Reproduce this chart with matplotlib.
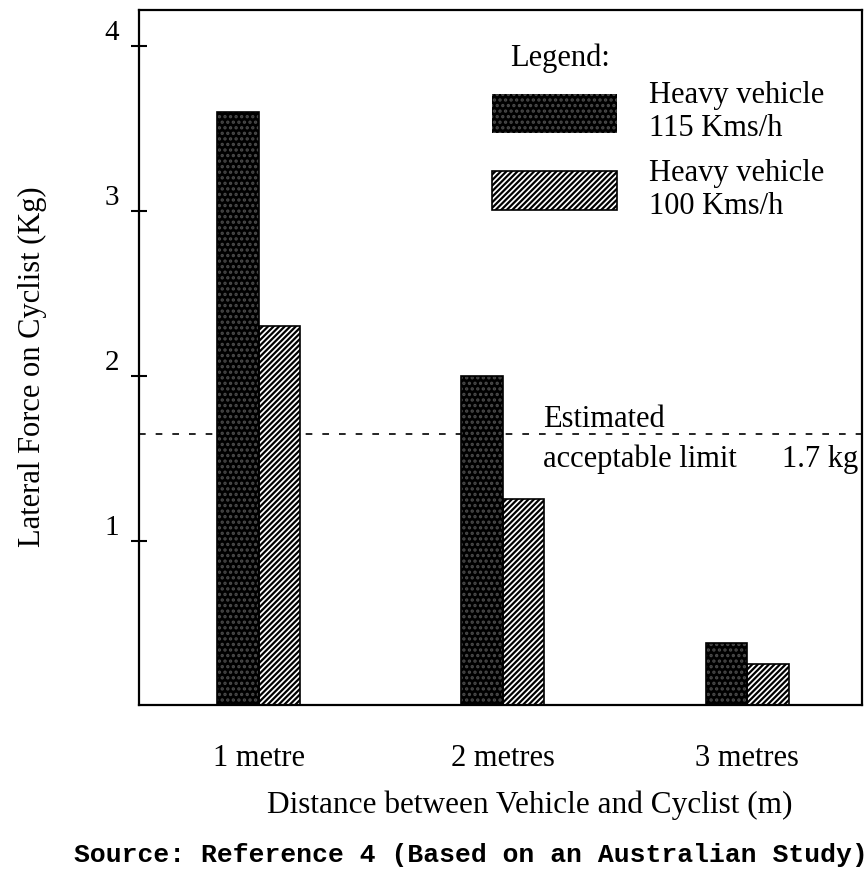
import matplotlib.pyplot as plt
from matplotlib.patches import Patch
import numpy as np

# data
distances = ['1 metre', '2 metres', '3 metres']
force_115 = [3.6, 2.0, 0.38]     # heavy vehicle 115 km/h
force_100 = [2.3, 1.25, 0.25]    # heavy vehicle 100 km/h
limit = 1.65                     # drawn line, labelled 1.7 kg
y_ticks = [1, 2, 3, 4]

plt.rcParams['font.family'] = ['Liberation Serif', 'DejaVu Serif']
plt.rcParams['hatch.linewidth'] = 1.6

fig = plt.figure(figsize=(8.68, 8.73), dpi=100)
ax = fig.add_axes([0.160, 0.192, 0.833, 0.7965])

x = np.arange(len(distances))
w = 0.17
dark_hatch = dict(facecolor='black', edgecolor='#4a4a4a', hatch='...', lw=0)
light_hatch = dict(facecolor='white', edgecolor='black', hatch='//////', lw=1.2)

ax.axhline(limit, color='black', ls=(0, (4, 6)), lw=1.2, zorder=1)

ax.bar(x - w / 2, force_115, w, zorder=2, **dark_hatch)
ax.bar(x - w / 2, force_115, w, facecolor='none', edgecolor='black',
       lw=1.2, zorder=3)
ax.bar(x + w / 2, force_100, w, zorder=2, **light_hatch)

ax.set_xlim(-0.49, 2.47)
ax.set_ylim(0, 4.22)

ax.set_yticks(y_ticks)
ax.set_yticklabels([str(t) for t in y_ticks], fontsize=21)
for lab in ax.get_yticklabels():
    lab.set_va('bottom')
ax.tick_params(axis='y', direction='inout', length=12, width=1.5, pad=8)

ax.set_xticks(x)
ax.set_xticklabels(distances, fontsize=22)
ax.tick_params(axis='x', length=0, pad=28)

for s in ax.spines.values():
    s.set_linewidth(1.6)

ax.set_xlabel('Distance between Vehicle and Cyclist (m)', fontsize=22.5)
ax.xaxis.set_label_coords(0.541, -0.122)
ax.set_ylabel('Lateral Force on Cyclist (Kg)', fontsize=22)
ax.yaxis.set_label_coords(-0.127, 0.487)

# limit annotation
ax.annotate('Estimated', (1.164, limit), xytext=(0, 4.5),
            textcoords='offset points', fontsize=22, va='baseline')
ax.annotate('acceptable limit', (1.164, limit), xytext=(0, -24),
            textcoords='offset points', fontsize=22, va='baseline')
ax.annotate('1.7 kg', (2.455, limit), xytext=(0, -24),
            textcoords='offset points', fontsize=22, va='baseline',
            ha='right')

# legend
ax.text(1.029, 3.878, 'Legend:', fontsize=22, ha='left', va='baseline')
handles = [Patch(**dark_hatch), Patch(**light_hatch)]
ax.legend(handles, ['Heavy vehicle\n115 Kms/h', 'Heavy vehicle\n100 Kms/h'],
          loc='upper left', bbox_to_anchor=(0.488, 0.898), frameon=False,
          fontsize=22, handlelength=4.1, handleheight=1.6, handletextpad=1.05,
          labelspacing=0.5, borderpad=0, borderaxespad=0)

fig.text(0.542, 0.0206, 'Source: Reference 4 (Based on an Australian Study)',
         family='Liberation Mono', fontweight='bold', fontsize=19,
         ha='center', va='center')

fig.savefig('out.png', dpi=100)
